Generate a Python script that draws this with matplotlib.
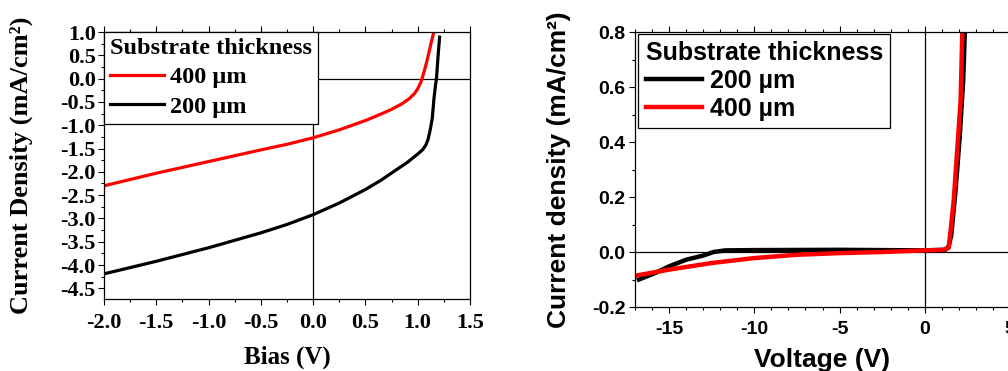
import matplotlib
matplotlib.use("Agg")
import matplotlib.pyplot as plt
from matplotlib.ticker import MultipleLocator

plt.rcParams["axes.unicode_minus"] = False

# left panel: J-V under illumination
bias_400 = [-2.0, -1.5, -1.0, -0.5, -0.25, 0.0, 0.25, 0.5, 0.65, 0.75, 0.85, 0.92, 0.97,
            1.0, 1.03, 1.05, 1.08, 1.11, 1.13, 1.155]
j_400 = [-2.30, -2.03, -1.78, -1.53, -1.41, -1.27, -1.10, -0.90, -0.76, -0.66, -0.54, -0.43,
         -0.32, -0.22, -0.08, 0.06, 0.30, 0.58, 0.78, 1.0]
bias_200 = [-2.0, -1.5, -1.0, -0.5, -0.25, 0.0, 0.25, 0.5, 0.65, 0.8, 0.9, 1.0, 1.05, 1.08,
            1.1, 1.12, 1.14, 1.155, 1.17, 1.18, 1.195, 1.21]
j_200 = [-4.19, -3.92, -3.63, -3.31, -3.13, -2.92, -2.67, -2.38, -2.18, -1.95, -1.80, -1.62,
         -1.52, -1.42, -1.30, -1.10, -0.85, -0.45, -0.15, 0.0, 0.48, 0.89]

# right panel: dark J-V
v_200 = [-16.77, -15.8, -15.0, -14.0, -13.0, -12.4, -11.7, -10.0, -5.0, 0.0, 1.2, 1.4, 1.55,
         1.8, 2.05, 2.25, 2.35]
jd_200 = [-0.10, -0.076, -0.052, -0.028, -0.013, 0.0, 0.006, 0.007, 0.008, 0.006, 0.008,
          0.02, 0.06, 0.22, 0.42, 0.62, 0.8]
v_400 = [-16.96, -15.0, -12.5, -10.0, -7.5, -5.0, -2.5, 0.0, 1.1, 1.4, 1.5, 1.7, 1.9, 2.1, 2.2]
jd_400 = [-0.086, -0.064, -0.04, -0.022, -0.010, -0.004, 0.0, 0.006, 0.008, 0.015, 0.07,
          0.19, 0.37, 0.55, 0.8]

fig = plt.figure(figsize=(10.08, 3.71), dpi=100)

# ---- left
serif = "Liberation Serif"
ax1 = fig.add_axes([0.1032, 0.194, 0.363, 0.7197])
ax1.axhline(0, color="black", lw=0.9, zorder=1)
ax1.axvline(0, color="black", lw=0.9, zorder=1)
ax1.plot(bias_400, j_400, color="red", lw=2.3, label="400 µm")
ax1.plot(bias_200, j_200, color="black", lw=2.3, label="200 µm")
ax1.set_xlim(-2.0, 1.5)
ax1.set_ylim(-4.73, 1.0)
ax1.xaxis.set_major_locator(MultipleLocator(0.5))
ax1.xaxis.set_minor_locator(MultipleLocator(0.25))
ax1.yaxis.set_minor_locator(MultipleLocator(0.25))
ax1.set_yticks([1.0, 0.5, 0.0, -0.5, -1.0, -1.5, -2.0, -2.5, -3.0, -3.5, -4.0, -4.5])
ax1.tick_params(which="both", direction="out", top=True, right=False, width=0.8)
ax1.tick_params(which="major", length=4)
ax1.tick_params(which="minor", length=2.5)
for lab in ax1.get_xticklabels() + ax1.get_yticklabels():
    lab.set_fontfamily(serif)
    lab.set_fontweight("bold")
    lab.set_fontsize(16)
ax1.tick_params(axis="y", pad=2)
ax1.tick_params(axis="x", pad=6)
ax1.set_xlabel("Bias (V)", fontfamily=serif, fontweight="bold", fontsize=18, labelpad=9)
ax1.set_ylabel("Current Density (mA/cm²)", fontfamily=serif, fontweight="bold", fontsize=19)
ax1.yaxis.set_label_coords(-0.194, 0.5)
for s in ax1.spines.values():
    s.set_linewidth(0.9)
leg1 = ax1.legend(loc="upper left", borderaxespad=0, title="Substrate thickness",
                  prop={"family": serif, "weight": "bold", "size": 17.5},
                  title_fontproperties={"family": serif, "weight": "bold", "size": 17.5},
                  alignment="left", handlelength=2.2, handletextpad=0.25,
                  labelspacing=0.3, borderpad=0.25, fancybox=False, framealpha=1,
                  edgecolor="black")
leg1.get_frame().set_linewidth(0.9)

# ---- right
sans = "Liberation Sans"
ax2 = fig.add_axes([0.630, 0.1725, 0.372, 0.741])
ax2.axhline(0, color="black", lw=0.9, zorder=1)
ax2.axvline(0, color="black", lw=0.9, zorder=1)
ax2.plot(v_200, jd_200, color="black", lw=3.2, label="200 µm")
ax2.plot(v_400, jd_400, color="red", lw=3.2, label="400 µm")
ax2.set_xlim(-17, 5)
ax2.set_ylim(-0.2, 0.8)
ax2.xaxis.set_major_locator(MultipleLocator(5))
ax2.xaxis.set_minor_locator(MultipleLocator(1))
ax2.yaxis.set_major_locator(MultipleLocator(0.2))
ax2.yaxis.set_minor_locator(MultipleLocator(0.1))
ax2.tick_params(which="both", direction="out", top=True, width=0.8)
ax2.tick_params(which="major", length=4)
ax2.tick_params(which="minor", length=2.5)
for lab in ax2.get_xticklabels() + ax2.get_yticklabels():
    lab.set_fontfamily(sans)
    lab.set_fontweight("bold")
    lab.set_fontsize(14)
ax2.tick_params(axis="y", pad=3)
ax2.tick_params(axis="x", pad=6)
ax2.set_xlabel("Voltage (V)", fontfamily=sans, fontweight="bold", fontsize=19, labelpad=7)
ax2.set_ylabel("Current density (mA/cm²)", fontfamily=sans, fontweight="bold", fontsize=19)
ax2.yaxis.set_label_coords(-0.171, 0.5)
for s in ax2.spines.values():
    s.set_linewidth(0.9)
leg2 = ax2.legend(loc="upper left", bbox_to_anchor=(0.008, 0.994), borderaxespad=0,
                  title="Substrate thickness",
                  prop={"family": sans, "weight": "bold", "size": 18},
                  title_fontproperties={"family": sans, "weight": "bold", "size": 18},
                  alignment="left", handlelength=2.25, handletextpad=0.33,
                  labelspacing=0.15, borderpad=0.3,
                  fancybox=False, framealpha=1, edgecolor="black")
leg2.get_frame().set_linewidth(0.9)

fig.savefig("out.png", dpi=100)
